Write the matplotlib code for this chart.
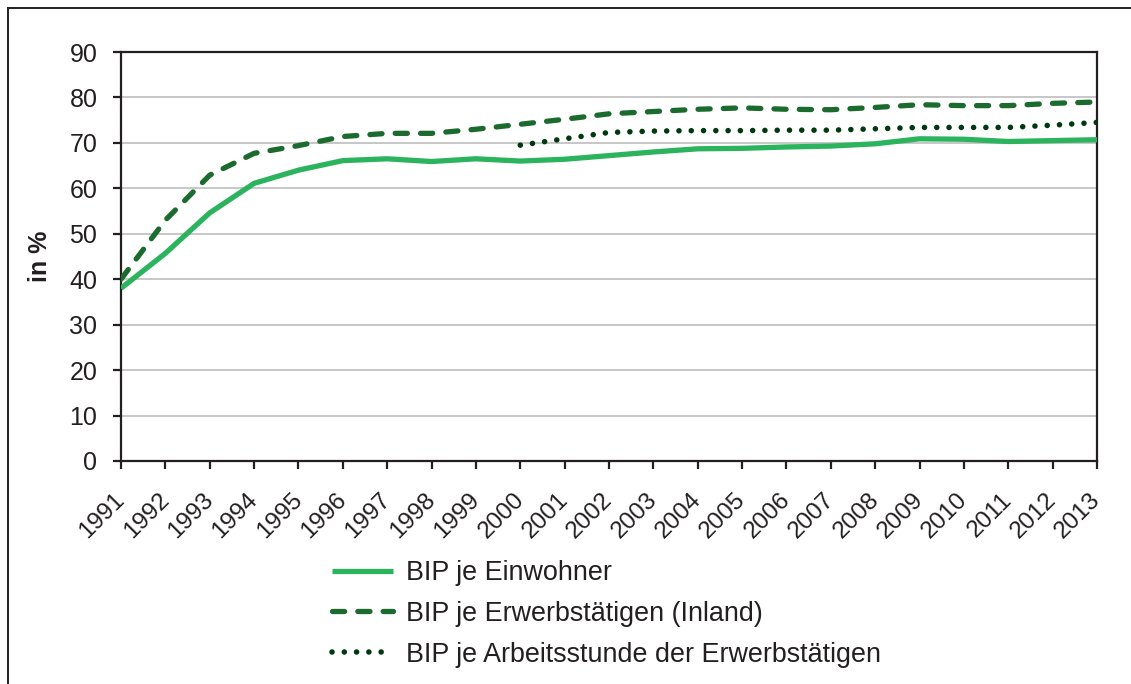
import matplotlib.pyplot as plt
import matplotlib.transforms as mtransforms
from matplotlib.lines import Line2D

plt.rcParams['font.family'] = ['Liberation Sans', 'DejaVu Sans']

# Data
years = list(range(1991, 2014))
bip_einwohner = [38.0, 45.7, 54.6, 61.1, 64.0, 66.1, 66.5, 65.9, 66.5, 66.0, 66.4,
                 67.2, 68.0, 68.7, 68.8, 69.1, 69.3, 69.8, 70.9, 70.8, 70.3, 70.5, 70.7]
bip_erwerbstaetige = [40.0, 53.0, 62.9, 67.7, 69.4, 71.4, 72.1, 72.1, 73.0, 74.1, 75.2,
                      76.4, 76.9, 77.4, 77.7, 77.4, 77.3, 77.8, 78.4, 78.2, 78.2, 78.7, 79.0]
years_stunde = list(range(2000, 2014))
bip_arbeitsstunde = [69.5, 70.9, 72.3, 72.6, 72.7, 72.7, 72.8, 72.8, 73.1, 73.4, 73.4,
                     73.4, 73.9, 74.5]

labels = ['BIP je Einwohner', 'BIP je Erwerbstätigen (Inland)',
          'BIP je Arbeitsstunde der Erwerbstätigen']

c_solid = '#2BB35D'
c_dash = '#1C6B2E'
c_dot = '#003810'
c_axis = '#231F20'

fig = plt.figure(figsize=(11.31, 6.84), dpi=100)
ax = fig.add_axes([121 / 1131, 1 - 461 / 684, 976 / 1131, 409 / 684])

ax.plot(years, bip_einwohner, color=c_solid, lw=3.8, solid_capstyle='butt',
        label=labels[0], zorder=3)
ax.plot(years, bip_erwerbstaetige, color=c_dash, lw=3.8, linestyle=(0, (2.3, 2.5)),
        dash_capstyle='round', label=labels[1], zorder=3)
ax.plot(years_stunde, bip_arbeitsstunde, color=c_dot, lw=4.0, linestyle=(0, (0.01, 2.2)),
        dash_capstyle='round', label=labels[2], zorder=3)

ax.set_xlim(1991, 2013)
ax.set_ylim(0, 90)
ax.set_yticks(range(0, 91, 10))
ax.set_xticks(years)
ax.set_xticklabels([str(y) for y in years], rotation=45, ha='right')
ax.grid(axis='y', color='#BEBEBE', lw=1.2)
ax.set_axisbelow(True)

for s in ax.spines.values():
    s.set_color(c_axis)
    s.set_linewidth(1.6)
ax.tick_params(axis='y', direction='out', length=6, width=1.6, color=c_axis,
               labelsize=18, pad=11, labelcolor=c_axis)
ax.tick_params(axis='x', direction='out', length=6, width=1.6, color=c_axis,
               labelsize=17.5, pad=14, labelcolor=c_axis)

# nudge the rotated year labels a little to the right
shift = mtransforms.ScaledTranslation(8 / 100, 0, fig.dpi_scale_trans)
for lbl in ax.get_xticklabels():
    lbl.set_transform(lbl.get_transform() + shift)

ax.set_ylabel('in %', fontsize=18, fontweight='bold', color=c_axis)
ax.yaxis.set_label_coords(-0.071, 0.5)

fig.legend(loc='upper left', bbox_to_anchor=(332 / 1131, 1 - 560 / 684),
           frameon=False, fontsize=19.4, handlelength=2.25, handletextpad=0.5,
           labelspacing=0.55, borderpad=0, borderaxespad=0, labelcolor=c_axis)

# outer frame of the original figure box
fig.add_artist(Line2D([7.5 / 1131, 7.5 / 1131], [0, 1 - 8 / 684], color=c_axis, lw=1.4,
                      transform=fig.transFigure))
fig.add_artist(Line2D([7.5 / 1131, 1], [1 - 8 / 684, 1 - 8 / 684], color=c_axis, lw=1.4,
                      transform=fig.transFigure))

fig.savefig('out.png', dpi=100)
